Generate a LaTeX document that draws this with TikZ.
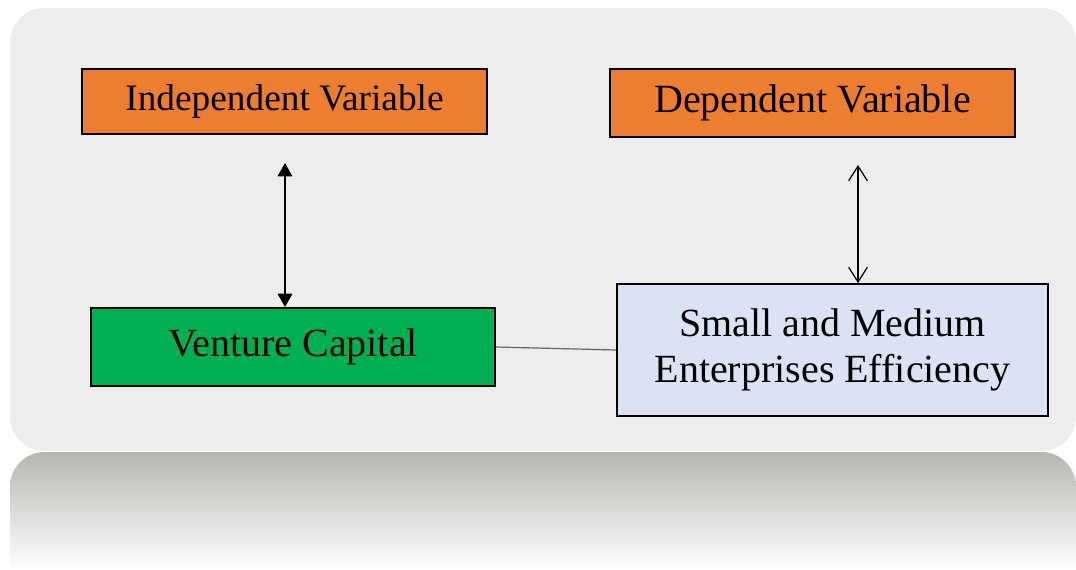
\documentclass[tikz,border=0pt]{standalone}
\usepackage{fontspec}
\setmainfont{Liberation Serif}
\usepackage{xcolor}
\usepackage{tikz}
\usetikzlibrary{calc,arrows,arrows.meta,positioning,shadings}
\definecolor{varorange}{HTML}{ED7D31}
\definecolor{vcgreen}{HTML}{00B050}
\definecolor{smeblue}{HTML}{DAE3F3}
\definecolor{panelgray}{HTML}{EDEDED}
\definecolor{shadowgray}{HTML}{B6B6B2}
\tikzset{
  box/.style={draw, line width=1.4pt, text centered, inner sep=0pt},
  varbox/.style={box, fill=varorange, minimum width=303.75pt, 
  minimum height=49pt},
  vcbox/.style={box, fill=vcgreen, minimum width=303pt, minimum height=58.5pt,
	font=\fontsize{30}{34.5}\selectfont},
  smebox/.style={box, fill=smeblue, minimum width=323.25pt,
	minimum height=99pt, align=center,
	font=\fontsize{30}{34.5}\selectfont},
  link/.style={line width=0.9pt}
}
\begin{document}
\begin{tikzpicture}[x=0.75pt, y=-0.75pt]
		\useasboundingbox (0,0) rectangle (1076,569);
		% panel and its reflection
		\fill[panelgray, rounded corners=26pt] (10,8) rectangle (1076,451);
		\shade[top color=shadowgray, bottom color=white]
			(10,569) [rounded corners=26pt] -- (10,452) -- (1076,452)
			[sharp corners] -- (1076,569) -- cycle;
		% variables
		\node[varbox, font=\fontsize{28}{32}\selectfont] (iv) at (284.5,101.5)
			{Independent Variable};
		\node[varbox, minimum height=51pt, font=\fontsize{30}{34.5}\selectfont]
			(dv) at (812.5,103) {Dependent Variable};
		\node[vcbox] (vc) at (293,347) {Venture Capital};
		\node[smebox] (sme) at (832.5,350)
			{Small and Medium\\Enterprises Efficiency};
		% connectors
		\coordinate (ivtip) at (285,163);
		\coordinate (dvtip) at (858,165);
		\draw[link, {Triangle[width=11pt,length=10pt]}-{Triangle[width=11pt,length=10pt]}]
			(ivtip) -- (vc.north -| ivtip);
		\draw[link, {Straight Barb[width=14pt,length=11pt]}-{Straight Barb[width=14pt,length=11pt]}]
			(dvtip) -- (sme.north -| dvtip);
		\draw[link, gray!80!black] (vc.east) -- (sme.west);
\end{tikzpicture}
\end{document}
